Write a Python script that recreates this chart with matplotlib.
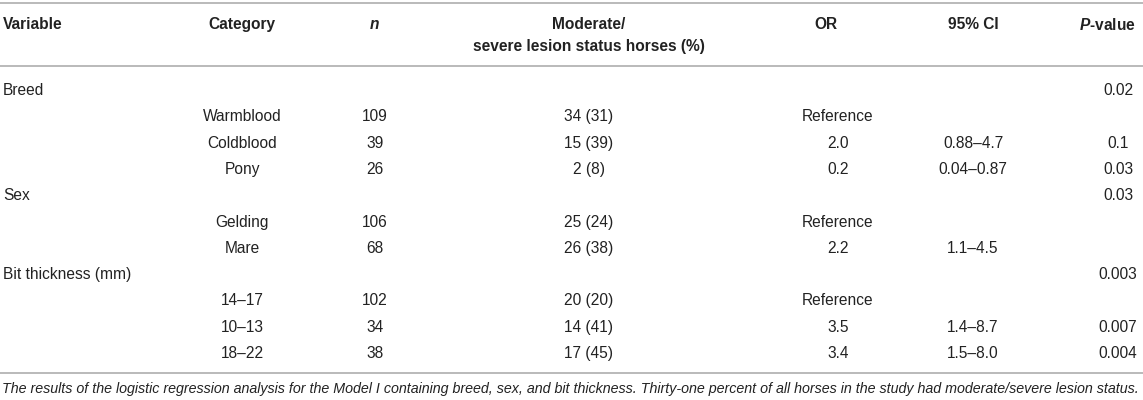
"""Logistic regression table (Model I) redrawn with matplotlib text"""
import matplotlib
matplotlib.use('Agg')
import matplotlib.pyplot as plt

plt.rcParams['font.family'] = ['Liberation Sans', 'DejaVu Sans']
plt.rcParams['mathtext.fontset'] = 'custom'
plt.rcParams['mathtext.it'] = 'Liberation Sans:italic:bold'
plt.rcParams['mathtext.rm'] = 'Liberation Sans:bold'

headers = ['Variable', 'Category', '$n$',
           'Moderate/\nsevere lesion status horses (%)', 'OR', '95% CI', '$P$-value']

variables = ['Breed', 'Sex', 'Bit thickness (mm)']
variable_p = ['0.02', '0.03', '0.003']
categories = [['Warmblood', 'Coldblood', 'Pony'],
              ['Gelding', 'Mare'],
              ['14–17', '10–13', '18–22']]
n_horses = [[109, 39, 26], [106, 68], [102, 34, 38]]
lesion_counts = [[34, 15, 2], [25, 26], [20, 14, 17]]
lesion_pct = [[31, 39, 8], [24, 38], [20, 41, 45]]
odds_ratio = [['Reference', '2.0', '0.2'], ['Reference', '2.2'], ['Reference', '3.5', '3.4']]
conf_int = [['', '0.88–4.7', '0.04–0.87'], ['', '1.1–4.5'], ['', '1.4–8.7', '1.5–8.0']]
p_values = [['', '0.1', '0.03'], ['', ''], ['', '0.007', '0.004']]

caption = ('The results of the logistic regression analysis for the Model I containing breed, '
           'sex, and bit thickness. Thirty-one percent of all horses in the study had '
           'moderate/severe lesion status.')

W, H = 1143, 400
fig = plt.figure(figsize=(W / 100, H / 100), dpi=100)
ax = fig.add_axes([0, 0, 1, 1])
ax.set_xlim(0, W)
ax.set_ylim(H, 0)
ax.axis('off')

txt = '#222222'
rule = '#b4b4b4'
fs = 11.2

# column anchors (x, alignment)
head_x = [(3, 'left'), (242, 'center'), (374, 'center'), (589, 'center'),
          (826, 'center'), (973, 'center'), (1107, 'center')]
data_x = [(3, 'left'), (242, 'center'), (375, 'center'), (589, 'center'),
          (838, 'center'), (973, 'center'), (1118, 'center')]

for (x, ha), label in zip(head_x, headers):
    for k, line in enumerate(label.split('\n')):
        ax.text(x, 23 + k * 21.5, line, ha=ha, va='center_baseline',
                fontsize=fs, fontweight='bold', color=txt)

ax.axhline(3, color=rule, lw=1.3)
ax.axhline(65.5, color=rule, lw=1.3)
ax.axhline(372.5, color=rule, lw=1.3)

row_h = 26.3
y = 89
for i, var in enumerate(variables):
    ax.text(data_x[0][0], y, var, ha='left', va='center_baseline', fontsize=fs, color=txt)
    ax.text(data_x[6][0], y, variable_p[i], ha='center', va='center_baseline',
            fontsize=fs, color=txt)
    y += row_h
    for j, cat in enumerate(categories[i]):
        cells = ['', cat, str(n_horses[i][j]),
                 f'{lesion_counts[i][j]} ({lesion_pct[i][j]})',
                 odds_ratio[i][j], conf_int[i][j], p_values[i][j]]
        for (x, ha), val in zip(data_x, cells):
            if val:
                ax.text(x, y, val, ha=ha, va='center_baseline', fontsize=fs, color=txt)
        y += row_h

# caption, sized to span the table width
cap = ax.text(2, 387, caption, ha='left', va='center_baseline', fontsize=9.5,
              fontstyle='italic', color=txt)
fig.canvas.draw()
width = cap.get_window_extent().width
cap.set_fontsize(9.5 * 1138 / width)

fig.savefig('out.png', dpi=100)
